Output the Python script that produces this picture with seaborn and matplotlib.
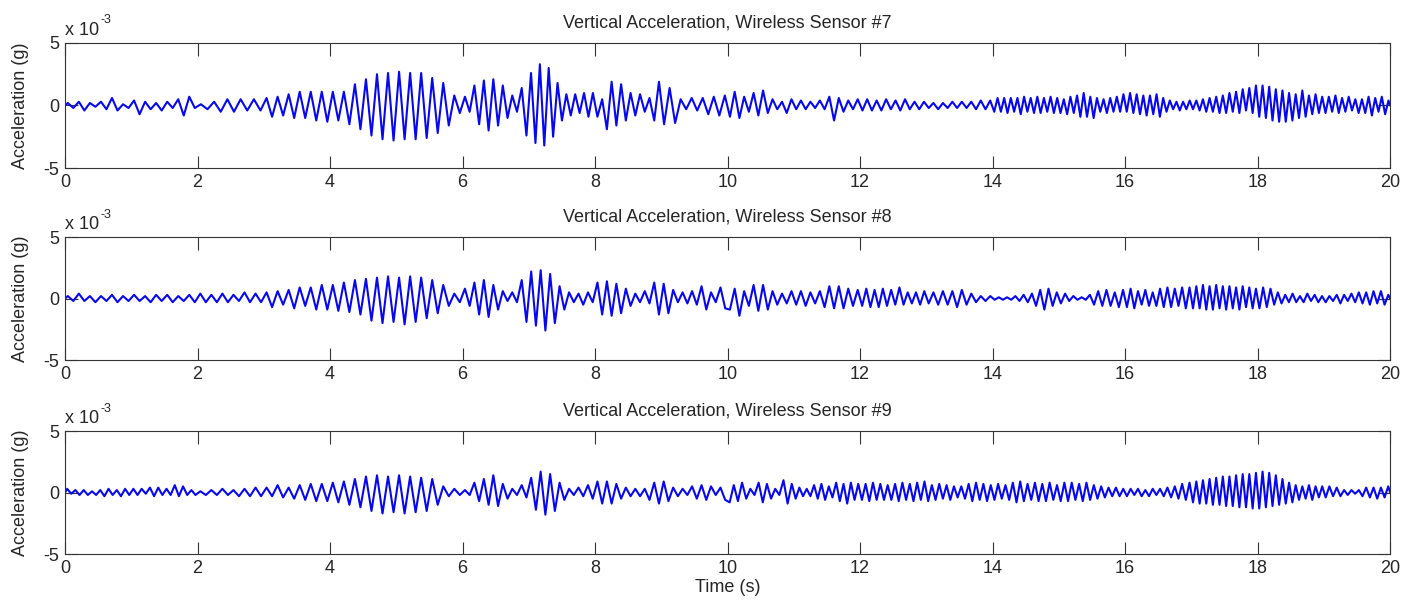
import numpy as np
import pandas as pd
import seaborn as sns
from matplotlib import pyplot as plt

# sensor names and panel titles
sensors = ['#7', '#8', '#9']
titles = ['Vertical Acceleration, Wireless Sensor ' + s for s in sensors]
x_ticks = [0, 2, 4, 6, 8, 10, 12, 14, 16, 18, 20]
y_ticks = [-5, 0, 5]

# peak / trough values (x 1e-3 g), one list per second
sensor7_extremes = [
    [0.2, -0.2, 0.3, -0.4, 0.2, -0.1, 0.3, -0.3, 0.6, -0.4, 0.1, -0.2],
    [0.4, -0.7, 0.3, -0.3, 0.2, -0.4, 0.3, -0.2, 0.5, -0.8, 0.7, -0.2],
    [0.1, -0.3, 0.3, -0.5, 0.5, -0.5, 0.5, -0.4, 0.5, -0.4],
    [0.6, -0.9, 0.7, -0.8, 0.9, -1.0, 1.1, -1.0, 1.1, -1.2, 1.1, -1.3],
    [1.1, -1.2, 1.1, -1.5, 1.7, -1.9, 2.1, -2.4, 2.5, -2.7, 2.6, -2.8],
    [2.7, -2.7, 2.6, -2.7, 2.6, -2.6, 2.2, -2.2, 1.8, -1.6, 0.8, -0.6],
    [0.7, -0.5, 1.6, -1.5, 2.0, -2.0, 2.1, -1.6, 1.6, -1.0, 0.8, -0.5, 1.4, -2.4],
    [2.6, -3.0, 3.3, -3.2, 3.0, -2.5, 1.8, -1.2, 0.9, -0.8, 0.9, -0.6, 1.0, -0.9, 1.0],
    [-0.9, 0.5, -1.9, 1.9, -1.6, 1.7, -1.2, 1.0, -0.8, 0.9, -0.5, 0.6, -1.2, 1.9],
    [-1.5, 1.4, -1.4, 0.5, -0.3, 0.6, -0.4, 0.6, -0.7, 0.7, -0.8, 0.8],
    [-0.9, 1.1, -1.0, 0.7, -0.5, 1.0, -0.8, 1.2, -0.6, 0.5, -0.3, 0.3, -0.6, 0.5],
    [-0.3, 0.4, -0.3, 0.3, -0.2, 0.4, -0.3, 0.7, -1.2, 0.6, -0.5, 0.4, -0.3, 0.5],
    [-0.4, 0.5, -0.4, 0.4, -0.4, 0.5, -0.3, 0.4, -0.4, 0.5, -0.3, 0.3, -0.3, 0.3],
    [-0.2, 0.2, -0.3, 0.2, -0.2, 0.3, -0.2, 0.3, -0.2, 0.3, -0.3, 0.4, -0.3, 0.4],
    [-0.5, 0.6, -0.5, 0.6, -0.6, 0.6, -0.5, 0.6, -0.7, 0.7, -0.5, 0.6, -0.6, 0.7, -0.6, 0.6, -0.5, 0.7, -0.6, 0.6],
    [-0.6, 0.5, -0.7, 0.7, -0.6, 0.8, -0.9, 1.0, -0.9, 0.7, -1.0, 0.6, -0.5, 0.5, -0.6, 0.6, -0.5, 0.7, -0.5, 0.9],
    [-0.5, 1.0, -0.6, 0.9, -0.7, 0.8, -0.8, 0.8, -0.7, 0.9, -0.9, 0.6, -0.5, 0.4, -0.3, 0.3, -0.4, 0.3, -0.3, 0.4],
    [-0.3, 0.4, -0.4, 0.5, -0.5, 0.6, -0.5, 0.7, -0.6, 0.8, -0.6, 1.0, -0.5, 1.1, -0.6, 1.3, -0.4, 1.4, -0.6, 1.6],
    [-0.9, 1.6, -1.0, 1.5, -1.2, 1.3, -1.3, 1.2, -1.3, 1.0, -1.2, 0.9, -1.0, 1.2, -0.9, 0.8, -0.7, 0.9, -0.6, 0.7],
    [-0.6, 0.7, -0.5, 0.8, -0.6, 0.6, -0.5, 0.7, -0.4, 0.5, -0.6, 0.5, -0.6, 0.7, -0.8, 0.6, -0.5, 0.7, -0.7, 0.4],
]

sensor8_extremes = [
    [0.2, -0.2, 0.4, -0.2, 0.2, -0.3, 0.2, -0.2, 0.3, -0.3, 0.2, -0.2],
    [0.3, -0.2, 0.2, -0.3, 0.3, -0.2, 0.3, -0.3, 0.2, -0.2, 0.3, -0.3],
    [0.4, -0.3, 0.3, -0.3, 0.4, -0.3, 0.3, -0.2, 0.5, -0.3, 0.4, -0.3],
    [0.5, -0.7, 0.6, -0.5, 0.7, -0.8, 0.9, -0.6, 0.9, -0.9, 1.1, -0.9],
    [1.1, -1.0, 1.3, -1.1, 1.5, -1.3, 1.6, -1.8, 1.7, -2.0, 1.8, -1.9],
    [1.7, -2.1, 1.8, -1.9, 1.7, -1.6, 1.5, -1.2, 1.1, -0.6, 0.4, -0.3],
    [0.8, -0.6, 1.3, -1.3, 1.5, -1.5, 1.1, -0.9, 0.6, -0.2, 0.5, -0.3, 1.5, -1.9],
    [2.2, -2.2, 2.3, -2.6, 2.0, -2.0, 1.0, -0.9, 0.5, -0.3, 0.4, -0.5, 0.5, -0.3],
    [1.3, -1.3, 1.4, -1.4, 1.2, -1.2, 0.8, -0.6, 0.4, -0.3, 0.6, -0.4, 1.3, -1.3],
    [1.2, -1.2, 0.7, -0.3, 0.5, -0.4, 0.6, -0.5, 1.0, -0.9, 0.5, -0.3, 0.9, -0.8],
    [-0.9, 0.8, -1.4, 0.6, -0.6, 1.1, -1.0, 1.1, -0.9, 0.6, -0.5, 0.4, -0.4, 0.6],
    [-0.5, 0.6, -0.6, 0.5, -0.4, 0.6, -0.7, 1.0, -0.8, 1.0, -0.8, 0.8, -0.6, 0.7],
    [-0.6, 0.8, -0.7, 0.7, -0.7, 0.8, -0.6, 0.7, -0.5, 0.9, -0.5, 0.5, -0.4, 0.5, -0.5, 0.6],
    [-0.4, 0.5, -0.5, 0.6, -0.5, 0.6, -0.7, 0.7, -0.5, 0.4, -0.3, 0.2, -0.2, 0.2],
    [-0.1, 0.1, -0.1, 0.1, -0.1, 0.2, -0.2, 0.3, -0.3, 0.4, -0.6, 0.7, -0.9, 0.8, -0.6, 0.5],
    [-0.4, 0.4, -0.2, 0.2, -0.1, 0.1, -0.1, 0.3, -0.5, 0.6, -0.6, 0.7, -0.6, 0.5, -0.7, 0.7],
    [-0.7, 0.8, -0.8, 0.6, -0.5, 0.7, -0.6, 0.5, -0.6, 0.8, -0.7, 0.9, -0.7, 0.8, -0.6, 0.9, -0.8, 0.9],
    [-0.8, 1.0, -0.8, 1.1, -0.9, 1.0, -0.9, 1.1, -0.8, 1.0, -0.9, 1.0, -0.8, 0.9, -0.9, 1.0, -0.7, 0.9, -0.8, 0.8],
    [-0.8, 0.9, -0.7, 0.8, -0.5, 0.5, -0.4, 0.3, -0.3, 0.4, -0.3, 0.2, -0.3, 0.4, -0.2, 0.3, -0.3, 0.2],
    [-0.3, 0.2, -0.2, 0.3, -0.4, 0.3, -0.2, 0.4, -0.3, 0.5, -0.4, 0.5, -0.5, 0.6, -0.4, 0.6, -0.5, 0.3],
]

sensor9_extremes = [
    [0.3, -0.1, 0.2, -0.2, 0.2, -0.2, 0.1, -0.2, 0.2, -0.3, 0.3, -0.2, 0.2, -0.3, 0.3, -0.2],
    [0.3, -0.2, 0.3, -0.1, 0.4, -0.3, 0.4, -0.2, 0.3, -0.2, 0.6, -0.3, 0.5, -0.2, 0.2, -0.2],
    [0.1, -0.2, 0.2, -0.2, 0.3, -0.2, 0.2, -0.3, 0.3, -0.3, 0.4, -0.3],
    [0.4, -0.3, 0.6, -0.4, 0.4, -0.5, 0.6, -0.6, 0.7, -0.7, 0.7, -0.7],
    [0.8, -0.8, 0.9, -1.0, 1.1, -1.2, 1.3, -1.5, 1.4, -1.7, 1.3, -1.6],
    [1.4, -1.7, 1.3, -1.6, 1.2, -1.5, 1.1, -1.0, 0.5, -0.3, 0.3, -0.2],
    [0.2, -0.2, 0.8, -0.7, 1.1, -1.0, 1.4, -1.1, 0.7, -0.5, 0.3, -0.2, 0.6, -0.4],
    [1.2, -1.4, 1.7, -1.8, 1.5, -1.5, 0.8, -0.6, 0.3, -0.2, 0.4, -0.3, 0.6, -0.5],
    [0.9, -0.9, 0.9, -0.9, 0.7, -0.5, 0.4, -0.3, 0.3, -0.3, 0.3, -0.6, 0.8, -0.9],
    [0.9, -0.7, 0.4, -0.3, 0.3, -0.2, 0.5, -0.5, 0.6, -0.6, 0.5, -0.2, 0.4, -0.6],
    [-0.8, 0.6, -0.7, 0.8, -0.5, 0.3, -0.2, 0.8, -0.8, 0.7, -0.5, 0.3, -0.2, 1.0, -0.9, 0.7],
    [-0.5, 0.4, -0.3, 0.3, -0.3, 0.6, -0.5, 0.7, -0.6, 0.5, -0.4, 0.8, -0.7, 0.7, -0.9, 0.8, -0.6, 0.7],
    [-0.6, 0.7, -0.7, 0.8, -0.6, 0.7, -0.6, 0.6, -0.6, 0.7, -0.7, 0.8, -0.6, 0.7, -0.7, 0.8, -0.6, 0.9],
    [-0.7, 0.6, -0.6, 0.7, -0.5, 0.6, -0.6, 0.5, -0.4, 0.5, -0.5, 0.7, -0.7, 0.8, -0.6, 0.7, -0.7, 0.6],
    [-0.6, 0.7, -0.5, 0.6, -0.6, 0.8, -0.8, 0.9, -0.7, 0.7, -0.6, 0.8, -0.7, 0.7, -0.7, 0.8, -0.6, 0.6],
    [-0.7, 0.8, -0.7, 0.8, -0.6, 0.7, -0.7, 0.8, -0.6, 0.6, -0.5, 0.5, -0.4, 0.4, -0.3, 0.4, -0.3, 0.3],
    [-0.3, 0.3, -0.2, 0.3, -0.3, 0.2, -0.3, 0.3, -0.2, 0.3, -0.3, 0.4, -0.4, 0.5, -0.5, 0.7, -0.6, 0.8],
    [-0.8, 0.9, -0.9, 1.0, -0.9, 1.1, -1.0, 1.2, -1.0, 1.3, -1.1, 1.3, -1.1, 1.4, -1.2, 1.5, -1.2, 1.5, -1.3, 1.6],
    [-1.3, 1.7, -1.2, 1.6, -1.1, 1.4, -1.0, 1.1, -0.9, 0.8, -0.8, 0.6, -0.6, 0.5, -0.5, 0.6, -0.6, 0.5, -0.4, 0.5],
    [-0.4, 0.5, -0.3, 0.4, -0.3, 0.2, -0.2, 0.2, -0.1, 0.2, -0.3, 0.4, -0.4, 0.4, -0.5, 0.4, -0.4, 0.5],
]

all_extremes = [sensor7_extremes, sensor8_extremes, sensor9_extremes]

# build a long table: extremes are spread evenly inside the second they were read from
rows = []
for name, per_second in zip(sensors, all_extremes):
    rows.append((name, 0.0, 0.0))
    for sec, vals in enumerate(per_second):
        n = len(vals)
        for i, v in enumerate(vals):
            rows.append((name, sec + (i + 0.5) / n, v))
    rows.append((name, 20.0, 0.0))
df = pd.DataFrame(rows, columns=['sensor', 'time', 'acc'])

sns.set_theme(style='white')
plt.rcParams['font.family'] = ['Liberation Sans', 'DejaVu Sans']
plt.rcParams['axes.unicode_minus'] = False

fig = plt.figure(figsize=(14.05, 6.07), dpi=100)
boxes = [[0.0463, 0.7232, 0.9431, 0.2060],
         [0.0463, 0.4069, 0.9431, 0.2026],
         [0.0463, 0.0873, 0.9431, 0.2026]]

for k, name in enumerate(sensors):
    ax = fig.add_axes(boxes[k])
    sns.lineplot(data=df[df['sensor'] == name], x='time', y='acc', ax=ax,
                 color='#0808ee', linewidth=1.5, estimator=None, sort=False)
    ax.set_xlim(0, 20)
    ax.set_ylim(-5, 5)
    ax.set_xticks(x_ticks)
    ax.set_yticks(y_ticks)
    ax.tick_params(direction='in', length=9, width=0.8, color='#333333',
                   labelsize=13, pad=4, top=True, right=True, bottom=True, left=True)
    for sp in ax.spines.values():
        sp.set_color('#333333')
        sp.set_linewidth(0.8)
    ax.set_title(titles[k], fontsize=13, pad=11)
    ax.set_ylabel('Acceleration (g)', fontsize=13)
    ax.yaxis.set_label_coords(-0.027, 0.5)
    ax.set_xlabel('Time (s)' if k == 2 else '', fontsize=13, labelpad=2)
    # MATLAB style exponent label, hyphen kept as in the original
    base = ax.text(0.0, 1.03, 'x 10', transform=ax.transAxes, fontsize=13,
                   ha='left', va='bottom')
    ax.annotate('-3', xy=(1, 0.75), xycoords=base, xytext=(1, 0),
                textcoords='offset points', fontsize=9, ha='left', va='bottom')

fig.savefig('out.png', dpi=100)
